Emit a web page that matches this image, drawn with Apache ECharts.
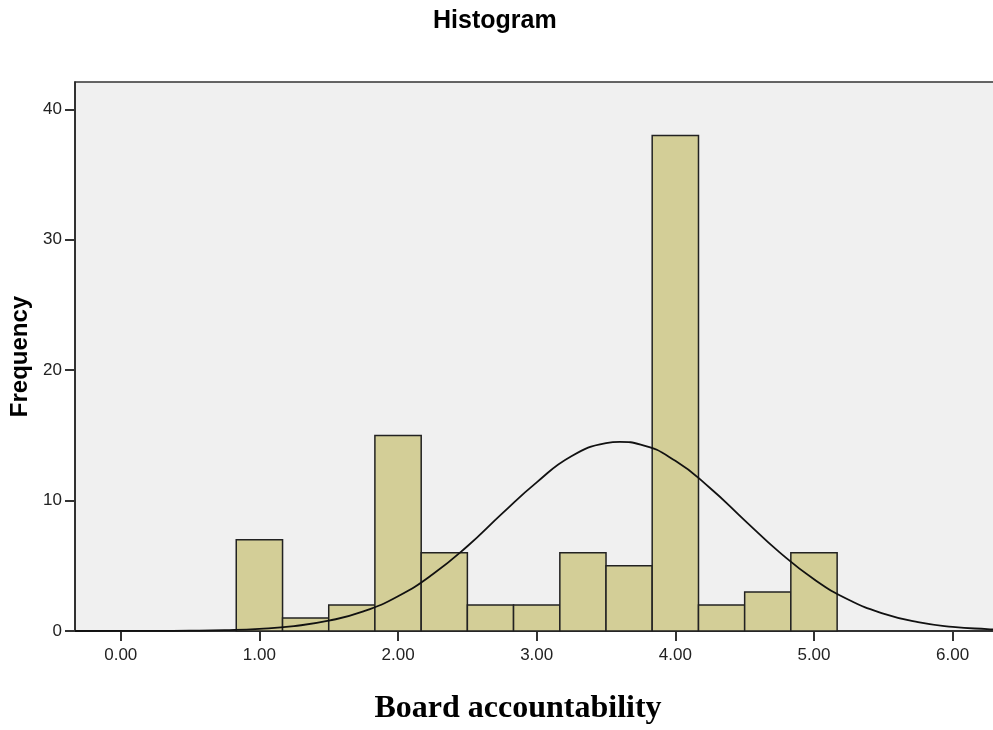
<!DOCTYPE html>
<html>
<head>
<meta charset="utf-8">
<title>Histogram</title>
<script src="https://cdn.jsdelivr.net/npm/echarts@6/dist/echarts.min.js"></script>
<style>
  html, body { margin: 0; padding: 0; background: #fff; }
  #chart { width: 993px; height: 730px; }
</style>
</head>
<body>
<div id="chart"></div>
<script>
// bins of Board accountability (edges) and their counts
const binEdges = [0.833, 1.167, 1.5, 1.833, 2.167, 2.5, 2.833, 3.167, 3.5, 3.833, 4.167, 4.5, 4.833, 5.167]
const frequencies = [7, 1, 2, 15, 6, 2, 2, 6, 5, 38, 2, 3, 6]

// normal curve
const curveX = [-0.33, 0, 0.25, 0.5, 0.75, 1, 1.25, 1.5, 1.75, 2, 2.25, 2.5, 2.75, 3, 3.25, 3.5, 3.6,
  3.75, 4, 4.25, 4.5, 4.75, 5, 5.25, 5.5, 5.75, 6, 6.25, 6.35]
const curveY = [0, 0.003, 0.01, 0.025, 0.07, 0.17, 0.38, 0.79, 1.5, 2.67, 4.35, 6.5, 9.0, 11.4, 13.4, 14.4, 14.5,
  14.3, 13.05, 10.97, 8.49, 6.05, 3.97, 2.4, 1.34, 0.68, 0.32, 0.14, 0.1]

const xTicks = [0, 1, 2, 3, 4, 5, 6]
const yTicks = [0, 10, 20, 30, 40]

const bars = frequencies.map((f, i) => [binEdges[i], binEdges[i + 1], f])
const curve = curveX.map((x, i) => [x, curveY[i]])

const chart = echarts.init(document.getElementById('chart'))

chart.setOption({
  animation: false,
  backgroundColor: '#ffffff',
  title: {
    text: 'Histogram',
    left: 428,
    top: 4,
    textStyle: {
      fontFamily: 'Liberation Sans, Arial, sans-serif',
      fontSize: 25,
      fontWeight: 'bold',
      color: '#000',
    },
  },
  grid: {
    left: 75,
    top: 82,
    right: -4,
    bottom: 99,
    outerBoundsMode: 'none',
    show: true,
    backgroundColor: '#f0f0f0',
    borderColor: '#333',
    borderWidth: 1.5,
  },
  xAxis: {
    type: 'value',
    min: -0.33,
    max: 6.32,
    name: 'Board accountability',
    nameLocation: 'middle',
    nameGap: 62,
    nameTextStyle: {
      fontFamily: 'Liberation Serif, Times New Roman, serif',
      fontSize: 32,
      fontWeight: 'bold',
      color: '#000',
      padding: [0, 36, 0, 0],
    },
    splitLine: { show: false },
    axisLine: { onZero: false, lineStyle: { color: '#222', width: 1.5 } },
    axisTick: {
      customValues: xTicks,
      length: 10,
      lineStyle: { color: '#333', width: 2 },
    },
    axisLabel: {
      customValues: xTicks,
      formatter: (v) => v.toFixed(2),
      fontFamily: 'Liberation Sans, Arial, sans-serif',
      fontSize: 17,
      color: '#222',
      margin: 16,
    },
  },
  yAxis: {
    type: 'value',
    min: 0,
    max: 42.1,
    name: 'Frequency',
    nameLocation: 'middle',
    nameGap: 34,
    nameTextStyle: {
      fontFamily: 'Liberation Sans, Arial, sans-serif',
      fontSize: 24,
      fontWeight: 'bold',
      color: '#000',
    },
    splitLine: { show: false },
    axisLine: { show: true, onZero: false, lineStyle: { color: '#222', width: 1.5 } },
    axisTick: {
      show: true,
      customValues: yTicks,
      length: 10,
      lineStyle: { color: '#333', width: 2 },
    },
    axisLabel: {
      customValues: yTicks,
      fontFamily: 'Liberation Sans, Arial, sans-serif',
      fontSize: 17,
      color: '#222',
      margin: 13,
    },
  },
  series: [
    {
      type: 'custom',
      data: bars,
      encode: { x: [0, 1], y: 2 },
      renderItem: (params, api) => {
        const p0 = api.coord([api.value(0), api.value(2)])
        const p1 = api.coord([api.value(1), 0])
        return {
          type: 'rect',
          shape: { x: p0[0], y: p0[1], width: p1[0] - p0[0], height: p1[1] - p0[1] },
          style: { fill: '#d3ce97', stroke: '#222', lineWidth: 1.5 },
        }
      },
      z: 2,
    },
    {
      type: 'line',
      data: curve,
      smooth: true,
      showSymbol: false,
      lineStyle: { color: '#111', width: 1.8 },
      z: 3,
    },
  ],
})
</script>
</body>
</html>
